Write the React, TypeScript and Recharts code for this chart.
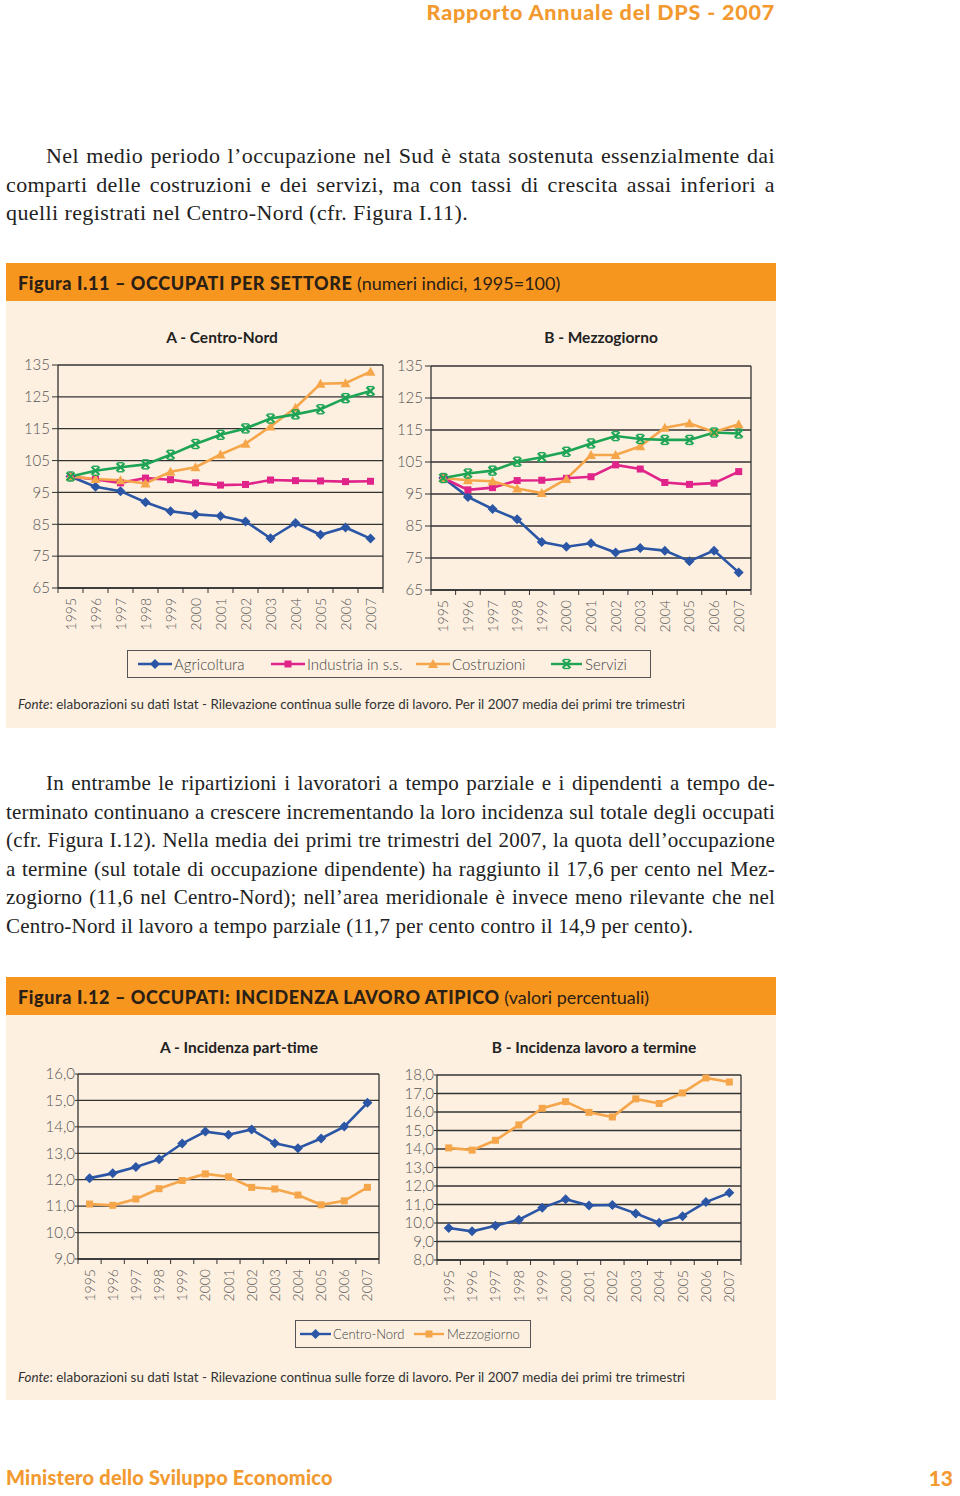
import React from "react";
import { LineChart, Line, XAxis, YAxis, CartesianGrid } from "recharts";

const years = ["1995", "1996", "1997", "1998", "1999", "2000", "2001", "2002", "2003", "2004", "2005", "2006", "2007"];

// Figura I.11 - A Centro-Nord (1995=100)
const cnAgricoltura = [100, 96.8, 95.4, 91.9, 89.1, 88.1, 87.6, 85.9, 80.6, 85.4, 81.7, 84.0, 80.5];
const cnIndustria = [100, 99.1, 98.0, 99.5, 99.0, 98.0, 97.3, 97.5, 98.9, 98.7, 98.6, 98.4, 98.5];
const cnCostruzioni = [100, 99.2, 98.8, 97.8, 101.5, 102.9, 106.9, 110.3, 115.7, 121.6, 129.1, 129.3, 132.9];
const cnServizi = [100, 101.8, 102.9, 103.8, 106.8, 110.2, 113.1, 115.1, 118.2, 119.5, 121.1, 124.6, 126.8];

// Figura I.11 - B Mezzogiorno
const mzAgricoltura = [100, 94.1, 90.3, 87.1, 80.0, 78.5, 79.6, 76.7, 78.1, 77.3, 74.0, 77.3, 70.5];
const mzIndustria = [100, 96.3, 97.0, 99.2, 99.3, 99.9, 100.4, 104.1, 102.8, 98.6, 98.0, 98.4, 102.0];
const mzCostruzioni = [100, 99.3, 99.0, 96.7, 95.3, 99.7, 107.2, 107.2, 109.9, 115.7, 117.1, 114.4, 116.8];
const mzServizi = [100, 101.4, 102.3, 105.1, 106.5, 108.2, 110.8, 113.1, 112.2, 111.9, 111.9, 114.2, 113.9];

// Figura I.12 - A part-time, B lavoro a termine (%)
const ptCentroNord = [12.06, 12.24, 12.48, 12.77, 13.37, 13.82, 13.7, 13.9, 13.38, 13.19, 13.56, 14.01, 14.91];
const ptMezzogiorno = [11.08, 11.03, 11.27, 11.66, 11.97, 12.22, 12.11, 11.71, 11.65, 11.42, 11.05, 11.2, 11.71];
const ltCentroNord = [9.73, 9.55, 9.85, 10.18, 10.82, 11.29, 10.95, 10.97, 10.52, 10.01, 10.37, 11.13, 11.63];
const ltMezzogiorno = [14.06, 13.94, 14.47, 15.3, 16.2, 16.56, 15.98, 15.73, 16.71, 16.46, 17.03, 17.84, 17.62];

const indexTicks = [65, 75, 85, 95, 105, 115, 125, 135];
const partTimeTicks = [9, 10, 11, 12, 13, 14, 15, 16];
const termTicks = [8, 9, 10, 11, 12, 13, 14, 15, 16, 17, 18];

const BLUE = "#2b56a5";
const PINK = "#e0248a";
const ORANGE = "#f6a64a";
const GREEN = "#1ea455";
const ORANGE_DARK = "#f29a30";
const BEIGE = "#fdf0e1";
const BAR = "#f7961f";
const SANS = "Lato, 'Open Sans', sans-serif";
const SERIF = "'Liberation Serif', 'DejaVu Serif', serif";

const sectorData = (a: number[], b: number[], c: number[], d: number[]) =>
  years.map((year, i) => ({ year, agr: a[i], ind: b[i], cos: c[i], ser: d[i] }));
const regionData = (a: number[], b: number[]) => years.map((year, i) => ({ year, cn: a[i], mz: b[i] }));

const Mark = ({ kind, cx, cy, color }: any) => {
  if (kind === "diamond")
    return <polygon points={`${cx},${cy - 5} ${cx + 5},${cy} ${cx},${cy + 5} ${cx - 5},${cy}`} fill={color} />;
  if (kind === "square") return <rect x={cx - 3.5} y={cy - 3.5} width={7} height={7} fill={color} />;
  if (kind === "triangle")
    return <polygon points={`${cx},${cy - 5} ${cx + 5},${cy + 4} ${cx - 5},${cy + 4}`} fill={color} />;
  return (
    <g stroke={color} strokeWidth={2.2}>
      <line x1={cx - 4} y1={cy - 4} x2={cx + 4} y2={cy + 4} />
      <line x1={cx - 4} y1={cy + 4} x2={cx + 4} y2={cy - 4} />
      <line x1={cx - 3} y1={cy - 4.5} x2={cx + 3} y2={cy - 4.5} strokeWidth={1.4} />
      <line x1={cx - 3} y1={cy + 4.5} x2={cx + 3} y2={cy + 4.5} strokeWidth={1.4} />
    </g>
  );
};

const dotOf = (kind: string, color: string) => (p: any) => {
  if (p.cx == null || p.cy == null) return <g key={p.index} />;
  return (
    <g key={p.index}>
      <Mark kind={kind} cx={p.cx} cy={p.cy} color={color} />
    </g>
  );
};

type Series = { key: string; name: string; color: string; kind: string };

const sectors: Series[] = [
  { key: "agr", name: "Agricoltura", color: BLUE, kind: "diamond" },
  { key: "ind", name: "Industria in s.s.", color: PINK, kind: "square" },
  { key: "cos", name: "Costruzioni", color: ORANGE, kind: "triangle" },
  { key: "ser", name: "Servizi", color: GREEN, kind: "cross" },
];
const regions: Series[] = [
  { key: "cn", name: "Centro-Nord", color: BLUE, kind: "diamond" },
  { key: "mz", name: "Mezzogiorno", color: ORANGE, kind: "square" },
];

type PanelProps = {
  left: number;
  top: number;
  width: number;
  height: number;
  plot: [number, number, number, number];
  data: any[];
  series: Series[];
  ticks: number[];
  fmt: (v: number) => string;
  tickSize: number;
  tickMargin: number;
  title: string;
  titleX: number;
  titleY: number;
};

const Panel = (p: PanelProps) => {
  const [l, t, r, b] = p.plot;
  const band = (r - l) / years.length;
  const last = years.length - 1;
  const yearTick = (tp: any) => {
    const { x, y, payload, index } = tp;
    return (
      <g>
        <line x1={x - band / 2} y1={y} x2={x - band / 2} y2={y + 5} stroke="#333" />
        {index === last && <line x1={x + band / 2} y1={y} x2={x + band / 2} y2={y + 5} stroke="#333" />}
        <text
          x={x + 5}
          y={y + 10}
          transform={`rotate(-90, ${x + 5}, ${y + 10})`}
          textAnchor="end"
          fill="#555"
          fontSize={14}
          fontWeight={300}
          fontFamily={SANS}
        >
          {payload.value}
        </text>
      </g>
    );
  };
  return (
    <>
      <div
        style={{
          position: "absolute",
          left: p.titleX - 150,
          width: 300,
          top: p.titleY - 10,
          textAlign: "center",
          fontFamily: SANS,
          fontWeight: 700,
          fontSize: 15.5,
          color: "#222",
          lineHeight: "20px",
        }}
      >
        {p.title}
      </div>
      <div style={{ position: "absolute", left: p.left, top: p.top }}>
        <LineChart
          width={p.width}
          height={p.height}
          data={p.data}
          margin={{ top: t - p.top, right: p.left + p.width - r, left: 0, bottom: 0 }}
        >
          <CartesianGrid vertical={true} verticalPoints={[r - p.left]} stroke="#333" strokeWidth={1.3} />
          <XAxis
            dataKey="year"
            interval={0}
            height={p.top + p.height - b}
            padding={{ left: band / 2, right: band / 2 }}
            tickSize={0}
            tickMargin={0}
            tickLine={false}
            axisLine={{ stroke: "#333", strokeWidth: 1.3 }}
            tick={yearTick}
          />
          <YAxis
            domain={[p.ticks[0], p.ticks[p.ticks.length - 1]]}
            ticks={p.ticks}
            interval={0}
            width={l - p.left}
            tickSize={p.tickSize}
            tickMargin={p.tickMargin}
            tickFormatter={p.fmt}
            axisLine={{ stroke: "#333", strokeWidth: 1.3 }}
            tickLine={{ stroke: "#333" }}
            tick={{ fill: "#555", fontSize: 15, fontWeight: 300, fontFamily: SANS }}
          />
          {p.series.map((s) => (
            <Line
              key={s.key}
              type="linear"
              dataKey={s.key}
              name={s.name}
              stroke={s.color}
              strokeWidth={2.6}
              dot={dotOf(s.kind, s.color)}
              activeDot={false}
              isAnimationActive={false}
            />
          ))}
        </LineChart>
      </div>
    </>
  );
};

const LegendBox = ({
  left,
  top,
  width,
  fontSize,
  items,
}: {
  left: number;
  top: number;
  width: number;
  fontSize: number;
  items: [Series, number, number, number][];
}) => (
  <div
    style={{
      position: "absolute",
      left,
      top,
      width,
      height: 28,
      border: "1px solid #555",
      boxSizing: "border-box",
    }}
  >
    {items.map(([s, ix, iw, tx]) => (
      <React.Fragment key={s.key}>
        <svg style={{ position: "absolute", left: ix - left, top: 6 }} width={iw} height={14}>
          <line x1={0} y1={7} x2={iw} y2={7} stroke={s.color} strokeWidth={2.4} />
          <Mark kind={s.kind} cx={iw / 2} cy={7} color={s.color} />
        </svg>
        <span
          style={{
            position: "absolute",
            left: tx - left,
            top: 13 - fontSize * 0.62,
            fontFamily: SANS,
            fontWeight: 300,
            fontSize,
            color: "#444",
            whiteSpace: "nowrap",
          }}
        >
          {s.name}
        </span>
      </React.Fragment>
    ))}
  </div>
);

const Line_ = ({ children, last, indent }: { children: React.ReactNode; last?: boolean; indent?: boolean }) => (
  <div style={{ textAlign: "justify", textAlignLast: last ? "left" : "justify", paddingLeft: indent ? 40 : 0 }}>
    {children}
  </div>
);

const Fonte = ({ top }: { top: number }) => (
  <div
    style={{
      position: "absolute",
      left: 18,
      top,
      fontFamily: SANS,
      fontSize: 13.4,
      color: "#333",
      whiteSpace: "nowrap",
    }}
  >
    <i>Fonte</i>: elaborazioni su dati Istat - Rilevazione continua sulle forze di lavoro. Per il 2007 media dei primi tre trimestri
  </div>
);

const FigHeader = ({ top, bold, rest }: { top: number; bold: string; rest: string }) => (
  <div
    style={{
      position: "absolute",
      left: 6,
      top,
      width: 770,
      height: 38,
      background: BAR,
      fontFamily: SANS,
      fontSize: 18,
      color: "#2a2016",
      lineHeight: "40px",
      paddingLeft: 12,
      boxSizing: "border-box",
      whiteSpace: "nowrap",
    }}
  >
    <span style={{ fontWeight: 900, letterSpacing: 0.6 }}>{bold}</span> {rest}
  </div>
);

const paraStyle: React.CSSProperties = {
  position: "absolute",
  left: 6,
  width: 769,
  fontFamily: SERIF,
  lineHeight: "28.5px",
  color: "#222",
};

const App = () => {
  const fmtInt = (v: number) => String(v);
  const fmtDec = (v: number) => v.toFixed(1).replace(".", ",");
  return (
    <div style={{ position: "absolute", left: 0, top: 0, width: 960, height: 1496, background: "#fff", overflow: "hidden" }}>
      <div
        style={{
          position: "absolute",
          right: 185,
          top: -1,
          fontFamily: SANS,
          fontWeight: 900,
          fontSize: 21.5,
          letterSpacing: 0.8,
          color: ORANGE_DARK,
          whiteSpace: "nowrap",
        }}
      >
        Rapporto Annuale del DPS - 2007
      </div>

      <div style={{ ...paraStyle, top: 142, fontSize: 22, letterSpacing: 0.4 }}>
        <Line_ indent>Nel medio periodo l’occupazione nel Sud è stata sostenuta essenzialmente dai</Line_>
        <Line_>comparti delle costruzioni e dei servizi, ma con tassi di crescita assai inferiori a</Line_>
        <Line_ last>quelli registrati nel Centro-Nord (cfr. Figura I.11).</Line_>
      </div>

      <FigHeader top={263} bold="Figura I.11 – OCCUPATI PER SETTORE" rest="(numeri indici, 1995=100)" />
      <div style={{ position: "absolute", left: 6, top: 301, width: 770, height: 427, background: BEIGE }} />

      <Panel
        left={0}
        top={340}
        width={400}
        height={300}
        plot={[58, 365, 383, 588]}
        data={sectorData(cnAgricoltura, cnIndustria, cnCostruzioni, cnServizi)}
        series={sectors}
        ticks={indexTicks}
        fmt={fmtInt}
        tickSize={6}
        tickMargin={2}
        title="A - Centro-Nord"
        titleX={222}
        titleY={337}
      />
      <Panel
        left={380}
        top={340}
        width={390}
        height={300}
        plot={[431, 366, 751, 590]}
        data={sectorData(mzAgricoltura, mzIndustria, mzCostruzioni, mzServizi)}
        series={sectors}
        ticks={indexTicks}
        fmt={fmtInt}
        tickSize={6}
        tickMargin={2}
        title="B - Mezzogiorno"
        titleX={601}
        titleY={337}
      />

      <LegendBox
        left={127}
        top={650}
        width={524}
        fontSize={15}
        items={[
          [sectors[0], 137, 34, 173],
          [sectors[1], 270, 34, 306],
          [sectors[2], 415, 34, 451],
          [sectors[3], 550, 31, 584],
        ]}
      />
      <Fonte top={696} />

      <div style={{ ...paraStyle, top: 769, fontSize: 21, letterSpacing: 0.2 }}>
        <Line_ indent>In entrambe le ripartizioni i lavoratori a tempo parziale e i dipendenti a tempo de-</Line_>
        <Line_>terminato continuano a crescere incrementando la loro incidenza sul totale degli occupati</Line_>
        <Line_>(cfr. Figura I.12). Nella media dei primi tre trimestri del 2007, la quota dell’occupazione</Line_>
        <Line_>a termine (sul totale di occupazione dipendente) ha raggiunto il 17,6 per cento nel Mez-</Line_>
        <Line_>zogiorno (11,6 nel Centro-Nord); nell’area meridionale è invece meno rilevante che nel</Line_>
        <Line_ last>Centro-Nord il lavoro a tempo parziale (11,7 per cento contro il 14,9 per cento).</Line_>
      </div>

      <FigHeader top={977} bold="Figura I.12 – OCCUPATI: INCIDENZA LAVORO ATIPICO" rest="(valori percentuali)" />
      <div style={{ position: "absolute", left: 6, top: 1015, width: 770, height: 385, background: BEIGE }} />

      <Panel
        left={0}
        top={1055}
        width={395}
        height={250}
        plot={[78, 1074, 379, 1259]}
        data={regionData(ptCentroNord, ptMezzogiorno)}
        series={regions}
        ticks={partTimeTicks}
        fmt={fmtDec}
        tickSize={3}
        tickMargin={0}
        title="A - Incidenza part-time"
        titleX={239}
        titleY={1047}
      />
      <Panel
        left={390}
        top={1055}
        width={380}
        height={250}
        plot={[437, 1075, 741, 1260]}
        data={regionData(ltCentroNord, ltMezzogiorno)}
        series={regions}
        ticks={termTicks}
        fmt={fmtDec}
        tickSize={3}
        tickMargin={0}
        title="B - Incidenza lavoro a termine"
        titleX={594}
        titleY={1047}
      />

      <LegendBox
        left={295}
        top={1320}
        width={236}
        fontSize={13}
        items={[
          [regions[0], 299, 31, 332],
          [regions[1], 413, 30, 446],
        ]}
      />
      <Fonte top={1369} />

      <div
        style={{
          position: "absolute",
          left: 6,
          top: 1465,
          fontFamily: SANS,
          fontWeight: 900,
          fontSize: 20,
          letterSpacing: 0.2,
          color: ORANGE_DARK,
          whiteSpace: "nowrap",
        }}
      >
        Ministero dello Sviluppo Economico
      </div>
      <div
        style={{
          position: "absolute",
          right: 7,
          top: 1465,
          fontFamily: SANS,
          fontWeight: 900,
          fontSize: 21,
          color: ORANGE_DARK,
        }}
      >
        13
      </div>
    </div>
  );
};

export default App;
